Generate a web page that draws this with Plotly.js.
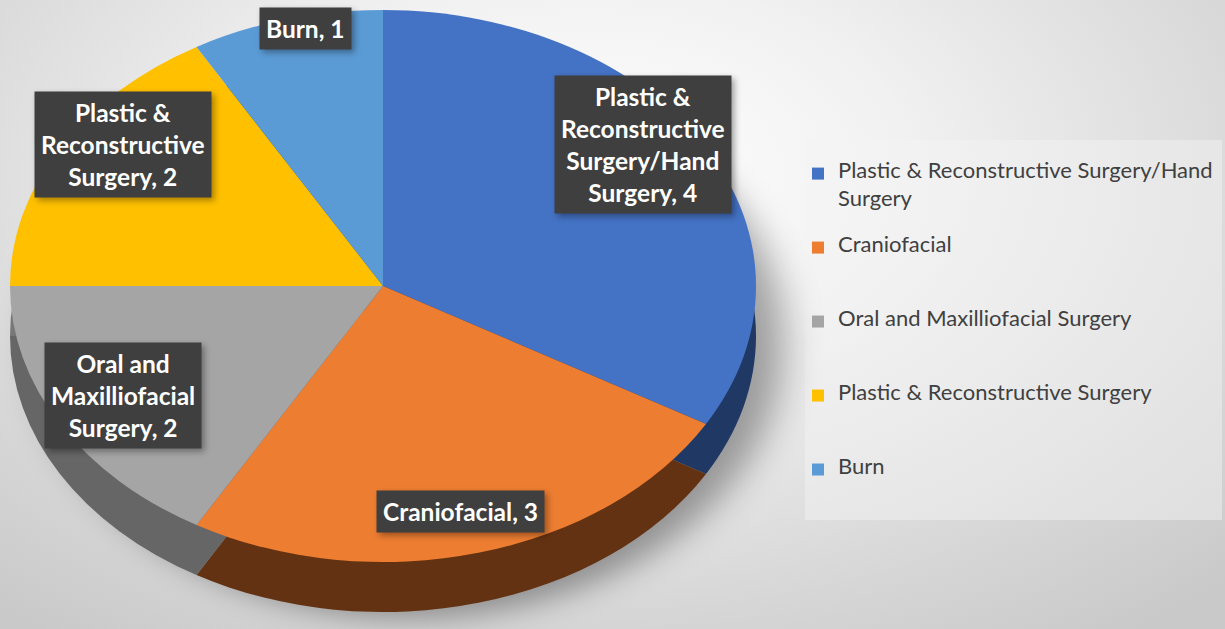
<!DOCTYPE html>
<html>
<head>
<meta charset="utf-8">
<script src="https://cdn.plot.ly/plotly-3.0.1.min.js"></script>
<style>
body { margin: 0; }
#chart {
    width: 1225px;
    height: 629px;
    background: radial-gradient(ellipse 75% 90% at 48% 28%, #ffffff 0%, #f1f1f1 35%, #d6d6d6 78%, #c9c9c9 100%);
}
.annotation rect.bg { filter: drop-shadow(3px 3px 3px rgba(0,0,0,0.35)); }
</style>
</head>
<body>
<div id="chart"></div>
<script>
// chart data
var categories = ['Plastic & Reconstructive Surgery/Hand Surgery', 'Craniofacial', 'Oral and Maxilliofacial Surgery', 'Plastic & Reconstructive Surgery', 'Burn'];
var counts = [4, 3, 2, 2, 1];
var legendNames = ['Plastic & Reconstructive Surgery/Hand<br>Surgery', 'Craniofacial', 'Oral and Maxilliofacial Surgery', 'Plastic & Reconstructive Surgery', 'Burn'];
var boxLabels = ['Plastic &<br>Reconstructive<br>Surgery/Hand<br>Surgery', 'Craniofacial', 'Oral and<br>Maxilliofacial<br>Surgery', 'Plastic &<br>Reconstructive<br>Surgery', 'Burn'];
var topColors = ['#4472C4', '#ED7D31', '#A5A5A5', '#FFC000', '#5B9BD5'];
var sideColors = ['#1F3864', '#633212', '#666666', '#777777', '#2E5C8A'];

var W = 1225, H = 629;
var cx = 383, cy = 286, R = 276, depth = 50;
var stretchX = 373 / R;
var labelCy = 270, labelRx = 300, labelRy = 250;

function domainFor(offsetY) {
    return {
        x: [(cx - R) / W, (cx + R) / W],
        y: [1 - (cy + R + offsetY) / H, 1 - (cy - R + offsetY) / H]
    };
}

// legend rows: five thin base lines per entry give the row spacing,
// the visible text is drawn larger inside a span on every other line
var ROW_LINES = 5;
var pieLabels = legendNames.map(function (name) {
    var lines = name.split('<br>');
    var out = [];
    for (var k = 0; k < ROW_LINES; k++) {
        if (k % 2 === 0 && lines[k / 2] !== undefined) {
            out.push('<span style="font-size:22px">' + lines[k / 2] + '</span>');
        } else {
            out.push(' ');
        }
    }
    return out.join('<br>');
});

var sidePie = {
    type: 'pie',
    labels: pieLabels,
    values: counts,
    sort: false,
    direction: 'clockwise',
    rotation: 0,
    textinfo: 'none',
    hoverinfo: 'skip',
    showlegend: false,
    marker: { colors: sideColors, line: { width: 0 } },
    domain: domainFor(depth)
};

var topPie = {
    type: 'pie',
    labels: pieLabels,
    values: counts,
    sort: false,
    direction: 'clockwise',
    rotation: 0,
    textinfo: 'none',
    hoverinfo: 'value',
    marker: { colors: topColors, line: { width: 0 } },
    domain: domainFor(0)
};

// data label boxes placed around each slice's middle angle
var total = counts.reduce(function (a, b) { return a + b; }, 0);
var annotations = [];
var cum = 0;
for (var i = 0; i < counts.length; i++) {
    var mid = (cum + counts[i] / 2) / total * 2 * Math.PI;
    cum += counts[i];
    annotations.push({
        xref: 'paper', yref: 'paper',
        x: (cx + labelRx * Math.sin(mid)) / W,
        y: 1 - (labelCy - labelRy * Math.cos(mid)) / H,
        xanchor: 'center', yanchor: 'middle',
        showarrow: false,
        text: boxLabels[i] + ', ' + counts[i],
        align: 'center',
        bgcolor: '#3F3F3F',
        borderpad: 6,
        font: { family: 'Lato, sans-serif', size: 24.5, color: '#ffffff', weight: 700 }
    });
}

var layout = {
    width: W,
    height: H,
    margin: { l: 0, r: 0, t: 0, b: 0 },
    paper_bgcolor: 'rgba(0,0,0,0)',
    plot_bgcolor: 'rgba(0,0,0,0)',
    showlegend: true,
    legend: {
        x: 798 / W,
        y: 1 - 160 / H,
        xanchor: 'left',
        yanchor: 'top',
        valign: 'top',
        bgcolor: 'rgba(0,0,0,0)',
        font: { family: 'Lato, sans-serif', size: 10.92, color: '#404040' }
    },
    shapes: [{
        type: 'rect', xref: 'paper', yref: 'paper', layer: 'below',
        x0: 805 / W, x1: 1222 / W, y0: 1 - 520 / H, y1: 1 - 140 / H,
        fillcolor: 'rgba(245,245,245,0.45)',
        line: { width: 0 }
    }],
    annotations: annotations
};

Plotly.newPlot('chart', [sidePie, topPie], layout, { displayModeBar: false }).then(function (gd) {
    // tilt: stretch the pies sideways into an ellipse
    var groups = gd.querySelectorAll('.pielayer g.trace');
    for (var j = 0; j < groups.length; j++) {
        groups[j].setAttribute('transform',
            'translate(' + cx + ',0) scale(' + stretchX + ',1) translate(' + (-cx) + ',0)');
    }
    if (groups.length) groups[0].style.filter = 'drop-shadow(20px 6px 14px rgba(0,0,0,0.35))';
});
</script>
</body>
</html>
